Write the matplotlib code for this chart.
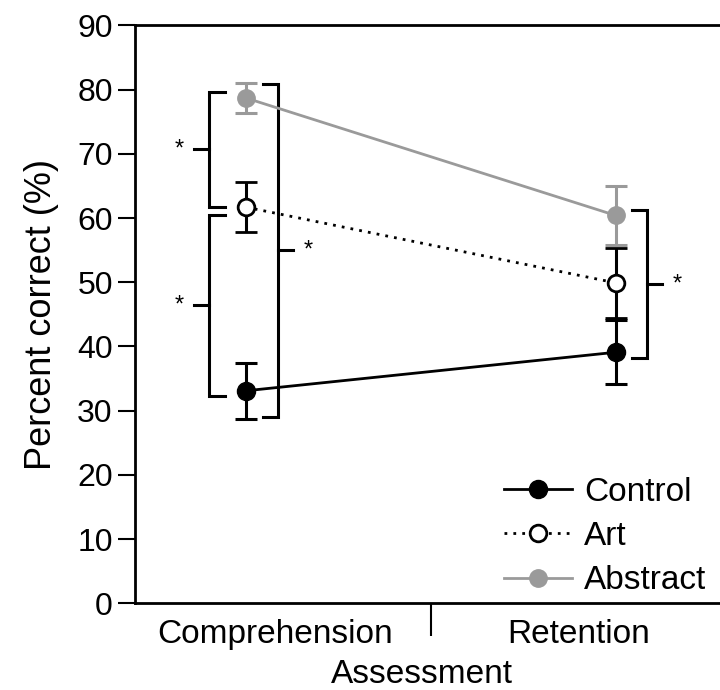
import matplotlib
matplotlib.use("Agg")
import matplotlib.pyplot as plt

plt.rcParams['font.family'] = ['Liberation Sans', 'DejaVu Sans']

# data
x_pos = [0, 1]
categories = ["Comprehension", "Retention"]
control = [33.1, 39.1]
control_err = [4.4, 5.0]
art = [61.7, 49.9]
art_err = [3.9, 5.4]
abstract = [78.7, 60.4]
abstract_err = [2.3, 4.6]

# significance brackets: (x of vertical, arm direction, y low, y high)
brackets = [
    (-0.10, 1, 61.8, 79.7),
    (-0.10, 1, 32.3, 60.5),
    (0.087, -1, 29.0, 80.9),
    (1.085, -1, 38.2, 61.2),
]

gray = '#9a9a9a'

fig = plt.figure(figsize=(7.2, 6.9), dpi=100)
ax = fig.add_axes([0.1875, 0.1257, 0.822, 0.8374])

eb_abs = ax.errorbar(x_pos, abstract, yerr=abstract_err, color=gray, lw=2, marker='o',
                     ms=12.5, mfc=gray, mec=gray, capsize=8, capthick=2.2, elinewidth=2.2,
                     zorder=3)
eb_art = ax.errorbar(x_pos, art, yerr=art_err, color='black', lw=2, ls=(0, (1, 2.2)),
                     marker='o', ms=12, mfc='white', mec='black', mew=2, capsize=8,
                     capthick=2.2, elinewidth=2.2, zorder=4)
eb_ctl = ax.errorbar(x_pos, control, yerr=control_err, color='black', lw=2, marker='o',
                     ms=13, mfc='black', mec='black', capsize=8, capthick=2.2,
                     elinewidth=2.2, zorder=5)

for bx, d, ylo, yhi in brackets:
    arm = 0.042 * d
    ax.plot([bx + arm, bx, bx, bx + arm], [ylo, ylo, yhi, yhi], color='black',
            lw=2.2, solid_joinstyle='miter', zorder=2)
    ymid = (ylo + yhi) / 2
    ax.plot([bx, bx - 0.04 * d], [ymid, ymid], color='black', lw=2.2, zorder=2)
    ax.text(bx - 0.08 * d, ymid, '*', fontsize=17, ha='center', va='center')

ax.set_xlim(-0.3, 1.3)
ax.set_ylim(0, 90)
ax.set_yticks(range(0, 91, 10))
ax.tick_params(axis='y', direction='out', length=12, width=1.5, labelsize=23, pad=4)

ax.set_xticks([0.5])
ax.set_xticklabels([''])
ax.tick_params(axis='x', which='major', direction='out', length=24, width=1.5)
ax.set_xticks([0.08, 0.9], minor=True)
ax.set_xticklabels(categories, minor=True)
ax.tick_params(axis='x', which='minor', length=0, labelsize=24, pad=11)

ax.spines['right'].set_visible(False)
for s in ['left', 'top', 'bottom']:
    ax.spines[s].set_linewidth(2)

ax.set_ylabel('Percent correct (%)', fontsize=26, labelpad=13)
ax.set_xlabel('Assessment', fontsize=24, labelpad=7, x=0.485)

ax.legend([eb_ctl[0], eb_art[0], eb_abs[0]], ['Control', 'Art', 'Abstract'],
          loc='lower right', bbox_to_anchor=(0.965, 0.012), frameon=False,
          fontsize=24, handlelength=2.05, handletextpad=0.36, labelspacing=0.4,
          borderpad=0, borderaxespad=0)

fig.savefig('out.png', dpi=100)
